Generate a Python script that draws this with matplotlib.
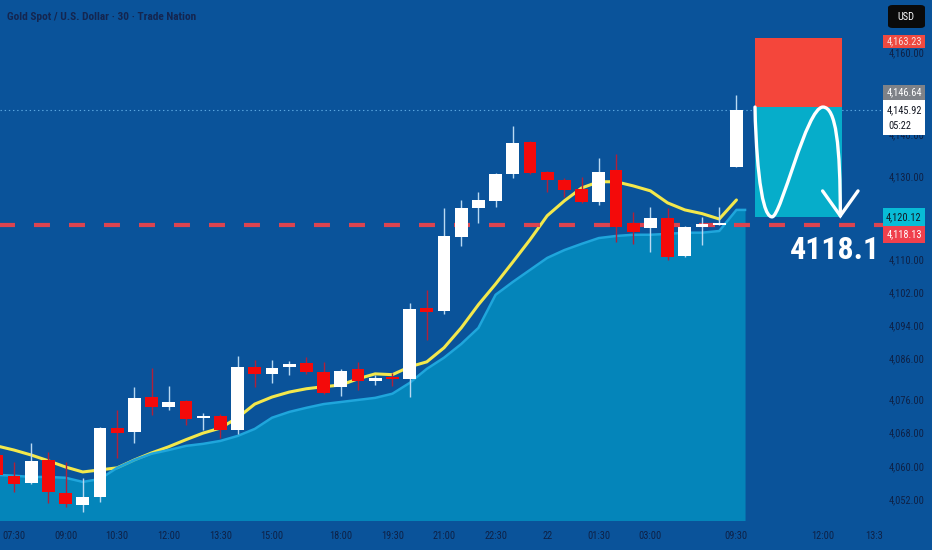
import matplotlib
matplotlib.use("Agg")
import matplotlib.pyplot as plt
from matplotlib.patches import Rectangle, PathPatch, FancyBboxPatch
from matplotlib.path import Path
import numpy as np

plt.rcParams['lines.scale_dashes'] = False

# ---------------- data ----------------
title = "Gold Spot / U.S. Dollar · 30 · Trade Nation"

opens = [4062.6, 4057.6, 4055.9, 4061.4, 4053.4, 4050.6, 4052.5, 4069.1, 4068.2, 4076.6,
         4074.2, 4075.7, 4071.6, 4072.0, 4068.7, 4083.9, 4082.2, 4083.9, 4084.9, 4082.7,
         4079.1, 4083.4, 4080.5, 4081.5, 4081.0, 4098.1, 4097.4, 4115.3, 4122.3, 4124.0,
         4130.5, 4138.2, 4131.0, 4129.1, 4126.9, 4123.7, 4131.5, 4118.7, 4117.5, 4119.9,
         4110.7, 4117.7, 4118.2, 4132.2]
highs = [4063.8, 4060.9, 4065.5, 4063.4, 4060.9, 4057.1, 4069.3, 4073.5, 4079.1, 4083.6,
         4079.3, 4075.9, 4072.8, 4072.5, 4086.5, 4085.6, 4085.6, 4085.3, 4086.3, 4085.1,
         4083.4, 4085.1, 4082.0, 4082.4, 4099.3, 4102.5, 4122.3, 4124.2, 4126.2, 4130.7,
         4142.1, 4138.4, 4131.1, 4129.5, 4129.8, 4134.4, 4135.3, 4121.3, 4122.5, 4122.3,
         4117.9, 4120.1, 4122.5, 4149.6]
lows = [4056.0, 4053.7, 4055.6, 4051.0, 4050.1, 4048.9, 4051.3, 4061.9, 4065.5, 4072.3,
        4073.5, 4069.9, 4068.7, 4066.7, 4067.7, 4079.1, 4080.0, 4082.0, 4082.2, 4077.4,
        4076.9, 4078.3, 4079.5, 4079.3, 4076.6, 4090.4, 4096.7, 4113.1, 4118.7, 4122.5,
        4129.5, 4130.5, 4126.2, 4124.9, 4123.5, 4123.0, 4114.1, 4113.6, 4111.7, 4109.7,
        4110.5, 4113.4, 4118.2, 4132.2]
closes = [4057.8, 4055.6, 4061.2, 4053.7, 4050.8, 4052.5, 4069.1, 4067.9, 4076.4, 4074.2,
          4075.4, 4071.3, 4072.0, 4068.7, 4083.9, 4082.2, 4083.6, 4084.6, 4082.7, 4077.6,
          4082.9, 4080.5, 4081.2, 4081.0, 4097.9, 4097.2, 4115.5, 4122.3, 4124.2, 4130.5,
          4138.0, 4130.7, 4129.1, 4126.6, 4123.7, 4131.0, 4117.7, 4116.5, 4119.9, 4110.5,
          4117.7, 4118.4, 4118.7, 4145.9]

ema = [4064.8, 4063.8, 4062.6, 4061.2, 4059.7, 4058.5, 4059.0, 4059.5, 4061.4, 4063.1,
       4064.6, 4066.3, 4067.9, 4069.1, 4071.6, 4074.9, 4076.6, 4077.8, 4078.6, 4079.1,
       4079.5, 4081.0, 4082.2, 4082.0, 4083.9, 4085.1, 4088.5, 4093.3, 4098.9, 4103.9,
       4109.2, 4114.6, 4120.4, 4124.0, 4127.1, 4128.6, 4128.6, 4127.6, 4126.4, 4123.5,
       4121.8, 4120.9, 4119.6, 4124.2]
band = [4057.8, 4057.6, 4057.3, 4057.3, 4057.1, 4056.1, 4056.8, 4059.5, 4061.4, 4062.9,
        4063.8, 4064.8, 4065.3, 4066.0, 4067.2, 4068.9, 4071.6, 4073.0, 4074.0, 4074.9,
        4075.4, 4075.9, 4076.4, 4077.4, 4080.0, 4083.4, 4086.1, 4089.4, 4093.3, 4101.3,
        4104.4, 4107.3, 4110.2, 4112.1, 4113.6, 4115.0, 4115.5, 4115.8, 4115.8, 4116.0,
        4116.3, 4116.3, 4116.7, 4121.8]

x_tick_pos = [1, 4, 7, 10, 13, 16, 20, 23, 26, 29, 32, 35, 38, 43, 48, 51]
x_tick_labels = ["07:30", "09:00", "10:30", "12:00", "13:30", "15:00", "18:00", "19:30",
                 "21:00", "22:30", "22", "01:30", "03:00", "09:30", "12:00", "13:3"]
y_ticks = [4052, 4060, 4068, 4076, 4086, 4094, 4102, 4110, 4130, 4140, 4160]

stop_price = 4163.23
entry_price = 4146.64
target_price = 4120.12
last_price = 4145.92
level_price = 4118.13
countdown = "05:22"
trade_x0, trade_x1 = 44.08, 49.14

# ---------------- style ----------------
BG = '#0a539a'
NARROW = ['Liberation Sans Narrow', 'Roboto Condensed', 'Liberation Sans', 'DejaVu Sans']
W, H = 932, 550

fig = plt.figure(figsize=(W / 100, H / 100), dpi=100)
fig.patch.set_facecolor(BG)
ax = fig.add_axes([0, 30 / H, 883 / W, 520 / H])
ax.set_facecolor(BG)
for s in ax.spines.values():
    s.set_visible(False)

x = np.arange(len(opens))
ax.set_xlim(0.19, 51.52)
ax.set_ylim(4046.9, 4172.5)

# EMA line
ax.plot(x, ema, color='#f3e84c', lw=2.2, zorder=2, solid_capstyle='round', solid_joinstyle='round')

# band area
xa = np.append(x, 43.5)
ya = np.append(band, band[-1])
ax.fill_between(xa, ya, 4000, color='#00a8d0', alpha=0.6, lw=0, zorder=3)
ax.plot(xa, ya, color='#1fa6dc', lw=1.8, zorder=3)

# dotted last-price line and dashed level
ax.axhline(last_price, color='#5aa6e0', lw=0.8, ls=(0, (1, 2)), zorder=2)
ax.plot([0.0, 51.52], [level_price, level_price], color='#dc4450', lw=3,
        dashes=(11.5, 13.7), zorder=4, solid_capstyle='butt')

# candles
o = np.array(opens); c = np.array(closes); h = np.array(highs); l = np.array(lows)
up = c >= o
body_lo = np.minimum(o, c)
body_h = np.maximum(np.abs(c - o), 0.5)
ax.vlines(x[up], l[up], h[up], color='#b9d9f2', lw=1, zorder=5)
ax.vlines(x[~up], l[~up], h[~up], color='#b0203a', lw=1, zorder=5)
ax.bar(x[up], body_h[up], 0.74, bottom=body_lo[up], color='white', lw=0, zorder=6)
ax.bar(x[~up], body_h[~up], 0.74, bottom=body_lo[~up], color='#f40a0a', lw=0, zorder=6)

# trade box
bw = trade_x1 - trade_x0
ax.add_patch(Rectangle((trade_x0, entry_price), bw, stop_price - entry_price,
                       fc='#f4463b', ec='none', zorder=6))
ax.add_patch(Rectangle((trade_x0, target_price), bw, entry_price - target_price,
                       fc='#06adca', ec='none', zorder=6))

# white hand-drawn curve, defined as fractions of the trade box
fx = [0.0, 0.006, 0.05, 0.196, 0.30, 0.59, 0.78, 0.93, 0.98, 0.98]
fy = [1.0, 0.70, 0.0, 0.0, 0.0, 1.0, 1.0, 1.0, 0.65, 0.01]
verts = [(trade_x0 + a * bw, target_price + b * (entry_price - target_price)) for a, b in zip(fx, fy)]
codes = [Path.MOVETO] + [Path.CURVE4] * 9
ax.add_patch(PathPatch(Path(verts, codes), fc='none', ec='white', lw=2.4,
                       capstyle='round', joinstyle='round', zorder=7))
tip = verts[-1]
wing_dx, wing_dy = 1.03, 6.0
ax.plot([tip[0] - wing_dx, tip[0], tip[0] + wing_dx],
        [tip[1] + wing_dy, tip[1], tip[1] + wing_dy],
        color='white', lw=2.4, solid_capstyle='round', solid_joinstyle='miter', zorder=7)

ax.text(48.73, 4112.2, f"{level_price:.1f}", color='white', fontsize=23,
        ha='center', va='center', family=NARROW, weight='bold', zorder=8)

# axes ticks
TXT = '#0e2146'
ax.set_xticks(x_tick_pos, x_tick_labels)
ax.tick_params(axis='x', length=0, pad=8, labelcolor=TXT, labelsize=7.5)
for t in ax.get_xticklabels():
    t.set_family(NARROW)
ax.yaxis.tick_right()
ax.set_yticks(y_ticks, [f"{v:,.2f}" for v in y_ticks])
ax.tick_params(axis='y', length=0, pad=30, labelcolor=TXT, labelsize=7.5)
for t in ax.get_yticklabels():
    t.set_ha('right')
    t.set_family(NARROW)

# title
fig.text(7 / W, 1 - 17 / H, title, color='#142650', fontsize=8.2, ha='left', va='center',
         family=NARROW, weight='bold')


# right-side price labels
def px_box(x0, y0, x1, y1, fc):
    fig.add_artist(Rectangle((x0 / W, 1 - y1 / H), (x1 - x0) / W, (y1 - y0) / H,
                             transform=fig.transFigure, fc=fc, ec='none', zorder=5))


def px_text(xc, yc, s, color):
    fig.text(xc / W, 1 - yc / H, s, color=color, fontsize=7.5, ha='center', va='center',
             family=NARROW, zorder=6)


fig.add_artist(FancyBboxPatch((888 / W, 1 - 28 / H), 37 / W, 23 / H,
                              boxstyle='round,pad=0,rounding_size=0.005',
                              transform=fig.transFigure, fc='#0a0a0a', ec='none', zorder=5))
px_text(906, 16.5, "USD", 'white')

px_box(883, 35, 925, 48, '#f04a40')
px_text(904, 41, f"{stop_price:,.2f}", '#f5e0e0')
px_box(883, 85, 925, 100, '#7e8288')
px_text(904, 92.5, f"{entry_price:,.2f}", 'white')
px_box(883, 100, 925, 135, 'white')
px_text(904, 110, f"{last_price:,.2f}", '#131722')
px_text(900, 126, countdown, '#131722')
px_box(883, 208, 925, 226, '#08bcd6')
px_text(904, 217, f"{target_price:,.2f}", '#131722')
px_box(883, 226, 925, 243, '#f0404c')
px_text(904, 234.5, f"{level_price:,.2f}", 'white')

fig.savefig("out.png", dpi=100, facecolor=BG)
